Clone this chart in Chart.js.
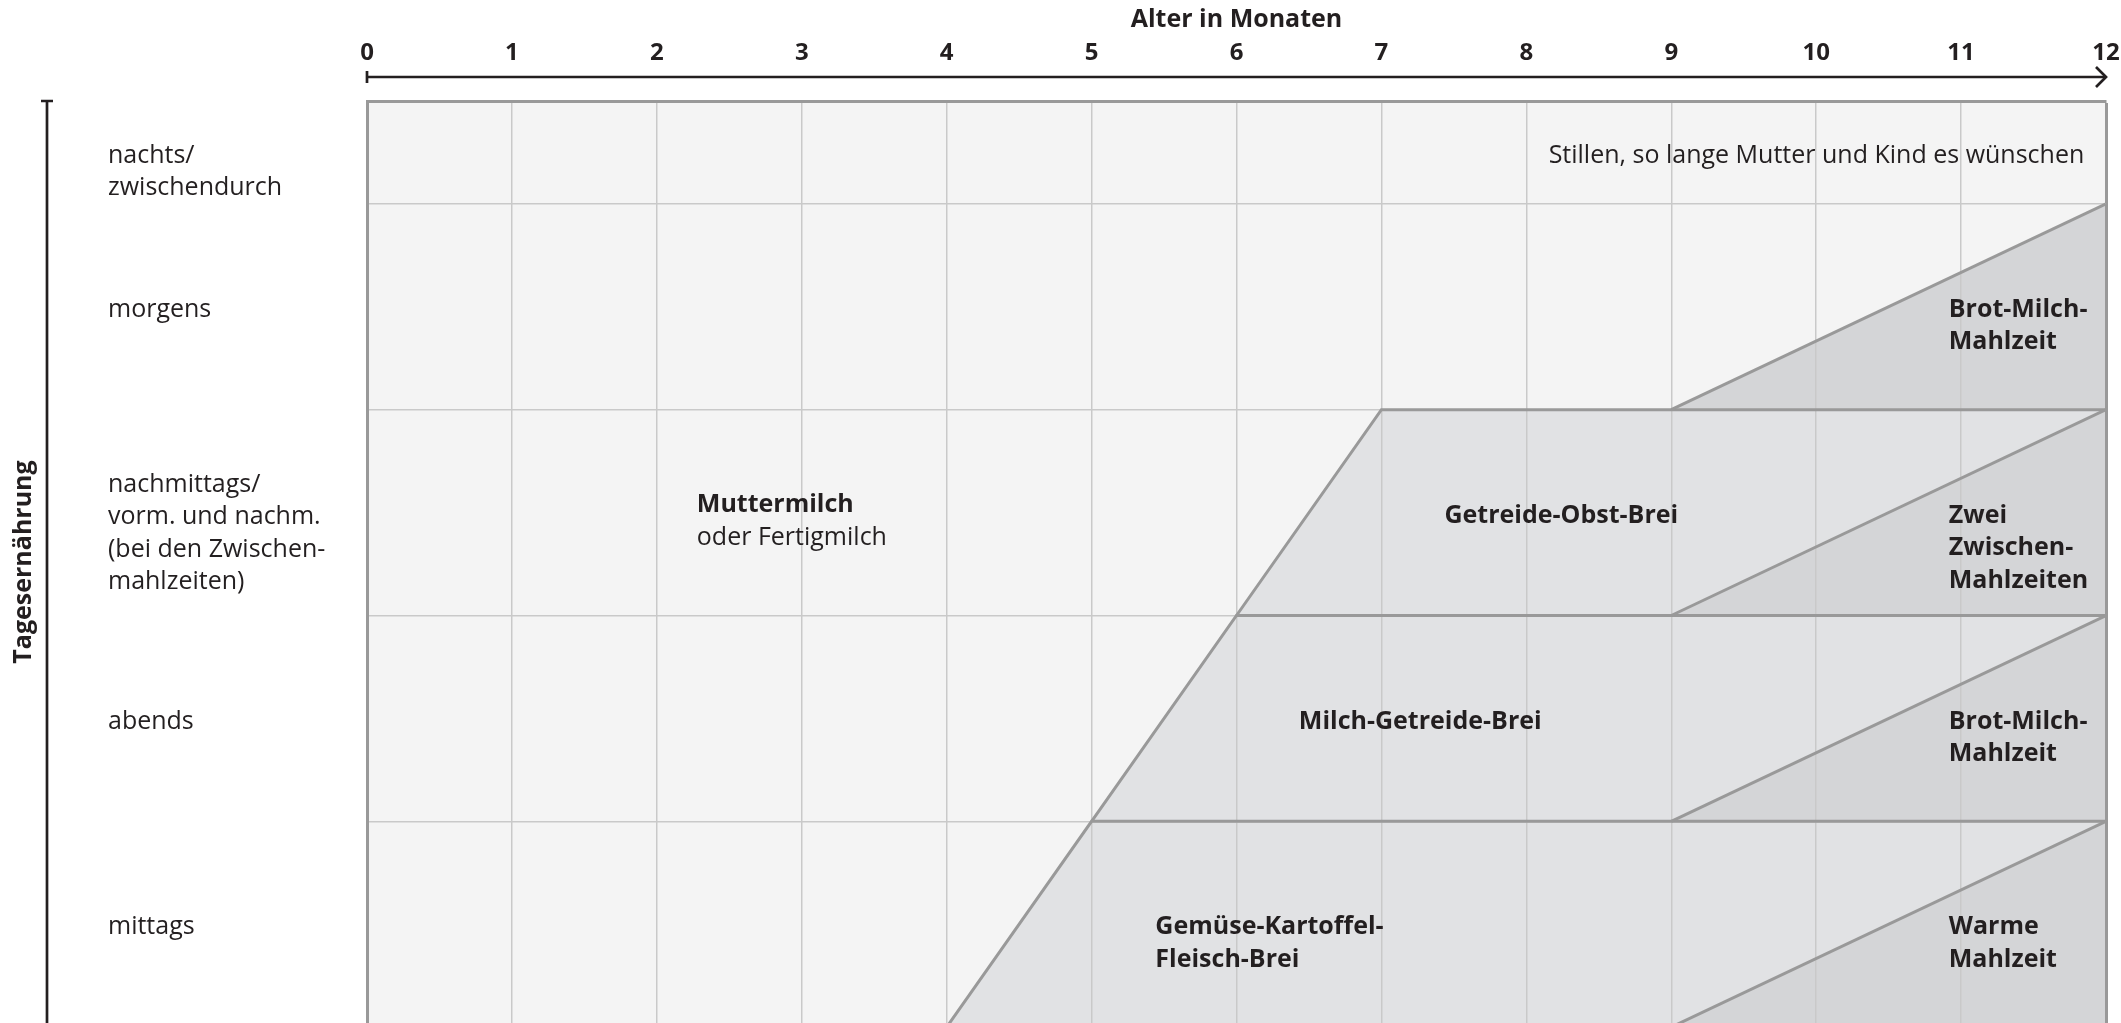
<!DOCTYPE html>
<html lang="de">
<head>
<meta charset="utf-8">
<title>Ernährungsplan für das erste Lebensjahr</title>
<script src="https://cdn.jsdelivr.net/npm/chart.js@4.4.1/dist/chart.umd.min.js"></script>
<style>
    html, body { margin: 0; padding: 0; background: #fff; overflow: hidden; }
    #wrap { width: 2121px; height: 1023px; }
</style>
</head>
<body>
<div id="wrap"><canvas id="plan"></canvas></div>
<script>
// Monate auf der Altersachse
const months = [0, 1, 2, 3, 4, 5, 6, 7, 8, 9, 10, 11, 12];
const ageEnd = 12;

// Tageszeiten (von unten nach oben: mittags = 0..1, ..., nachts = 4..4.5)
const rowLabels = [
    ['mittags'],
    ['abends'],
    ['nachmittags/', 'vorm. und nachm.', '(bei den Zwischen-', 'mahlzeiten)'],
    ['morgens'],
    ['nachts/', 'zwischendurch']
];
const rowLabelY = [0.5, 1.5, 2.65, 3.5, 4.25];
const dayTop = 4.5;

// Breie: Beginn und volle Mahlzeit (Monat), je Zeile mittags / abends / nachmittags
const breiNames = [['Gemüse-Kartoffel-', 'Fleisch-Brei'], ['Milch-Getreide-Brei'], ['Getreide-Obst-Brei']];
const breiStart = [4, 5, 6];
const breiFull = [5, 6, 7];
const breiLabelX = [5.44, 6.43, 7.435];

// Familienkost ab Monat, je Zeile mittags / abends / nachmittags / morgens
const familyNames = [['Warme', 'Mahlzeit'], ['Brot-Milch-', 'Mahlzeit'], ['Zwei', 'Zwischen-', 'Mahlzeiten'], ['Brot-Milch-', 'Mahlzeit']];
const familyStart = [9, 9, 9, 9];
const familyLabelX = 10.915;

const milkLabel = ['Muttermilch', 'oder Fertigmilch'];
const milkLabelX = 2.276;
const milkLabelY = 2.55;
const nightLabel = 'Stillen, so lange Mutter und Kind es wünschen';
const nightLabelX = 11.85;

const ink = '#231f20';
const family = "'Open Sans', 'Noto Sans', sans-serif";
const edge = '#999999';
const gridColor = '#c9c9c9';

const datasets = [];

// Hintergrund: Milchernährung über den ganzen Tag
datasets.push({
    label: 'Milch',
    data: [{ x: 0, y: dayTop }, { x: ageEnd, y: dayTop }],
    fill: 'start',
    backgroundColor: '#f4f4f4',
    borderWidth: 0,
    order: 3
});

breiStart.forEach((start, i) => {
    datasets.push({
        label: breiNames[i].join(' '),
        data: [{ x: start, y: i }, { x: breiFull[i], y: i + 1 }, { x: ageEnd, y: i + 1 }],
        fill: { value: i },
        backgroundColor: '#e1e2e4',
        borderColor: edge,
        borderWidth: 3,
        order: 2
    });
});

familyStart.forEach((start, i) => {
    datasets.push({
        label: familyNames[i].join(' '),
        data: [{ x: start, y: i }, { x: ageEnd, y: i + 1 }],
        fill: { value: i },
        backgroundColor: '#d4d5d7',
        borderColor: edge,
        borderWidth: 3,
        order: 1
    });
});

function drawLines(ctx, lines, px, py, fonts, align) {
    ctx.textAlign = align || 'left';
    ctx.textBaseline = 'middle';
    lines.forEach((line, i) => {
        ctx.font = fonts[Math.min(i, fonts.length - 1)];
        ctx.fillText(line, px, py + 3 + i * 32.4);
    });
}

const planDecor = {
    id: 'planDecor',
    afterDraw(chart) {
        const { ctx, chartArea, scales: { x, y } } = chart;
        ctx.save();
        ctx.strokeStyle = ink;
        ctx.fillStyle = ink;
        ctx.lineWidth = 2.7;

        // Altersachse mit Pfeil
        const ay = chartArea.top - 24;
        const x0 = x.getPixelForValue(0);
        const x12 = x.getPixelForValue(ageEnd);
        ctx.beginPath();
        ctx.moveTo(x0, ay);
        ctx.lineTo(x12, ay);
        ctx.moveTo(x0, ay - 6);
        ctx.lineTo(x0, ay + 6);
        ctx.stroke();
        ctx.beginPath();
        ctx.moveTo(x12 - 10, ay - 10);
        ctx.lineTo(x12, ay);
        ctx.lineTo(x12 - 10, ay + 10);
        ctx.stroke();

        // Tagesachse
        const lx = y.left + 47;
        ctx.beginPath();
        ctx.moveTo(lx, chartArea.top);
        ctx.lineTo(lx, chart.height);
        ctx.moveTo(lx - 6, chartArea.top);
        ctx.lineTo(lx + 6, chartArea.top);
        ctx.stroke();

        const regular = '25px ' + family;
        const bold = 'bold 25px ' + family;

        rowLabels.forEach((lines, i) => {
            drawLines(ctx, lines, y.left + 108, y.getPixelForValue(rowLabelY[i]), [regular]);
        });

        drawLines(ctx, milkLabel, x.getPixelForValue(milkLabelX), y.getPixelForValue(milkLabelY), [bold, regular]);
        drawLines(ctx, [nightLabel], x.getPixelForValue(nightLabelX), y.getPixelForValue(4.25), [regular], 'right');

        breiNames.forEach((lines, i) => {
            drawLines(ctx, lines, x.getPixelForValue(breiLabelX[i]), y.getPixelForValue(i + 0.5), [bold]);
        });
        familyNames.forEach((lines, i) => {
            drawLines(ctx, lines, x.getPixelForValue(familyLabelX), y.getPixelForValue(i + 0.5), [bold]);
        });
        ctx.restore();
    }
};

new Chart(document.getElementById('plan'), {
    type: 'line',
    data: { datasets: datasets },
    plugins: [planDecor],
    options: {
        responsive: true,
        maintainAspectRatio: false,
        animation: false,
        events: [],
        layout: { padding: 0 },
        elements: {
            point: { radius: 0, hoverRadius: 0 },
            line: { tension: 0, borderJoinStyle: 'miter' }
        },
        plugins: {
            legend: { display: false },
            tooltip: { enabled: false },
            filler: { propagate: false, drawTime: 'beforeDraw' }
        },
        scales: {
            x: {
                type: 'linear',
                position: 'top',
                min: 0,
                max: ageEnd,
                afterFit: (scale) => {
                    scale.height = 101;
                    scale.paddingLeft = 0;
                    scale.paddingRight = 15;
                },
                afterBuildTicks: (scale) => { scale.ticks = months.map(m => ({ value: m })); },
                ticks: {
                    autoSkip: false,
                    maxRotation: 0,
                    padding: 33,
                    color: ink,
                    font: { family: family, size: 24, weight: 'bold' }
                },
                grid: {
                    drawTicks: false,
                    color: (c) => c.tick && c.tick.value === ageEnd ? edge : gridColor,
                    lineWidth: (c) => c.tick && c.tick.value === ageEnd ? 3 : 1.5
                },
                border: { display: true, color: edge, width: 3 },
                title: {
                    display: true,
                    text: 'Alter in Monaten',
                    color: ink,
                    font: { family: family, size: 25, weight: 'bold' },
                    padding: { top: 5, bottom: 0 }
                }
            },
            y: {
                type: 'linear',
                min: 0.02,
                max: dayTop,
                afterFit: (scale) => { scale.width = 367; },
                afterBuildTicks: (scale) => { scale.ticks = [1, 2, 3, 4].map(v => ({ value: v })); },
                ticks: { display: false },
                grid: { drawTicks: false, color: gridColor, lineWidth: 1.5 },
                border: { display: true, color: edge, width: 3 },
                title: {
                    display: true,
                    text: 'Tagesernährung',
                    color: ink,
                    font: { family: family, size: 25, weight: 'bold' },
                    padding: { top: 9, bottom: 0 }
                }
            }
        }
    }
});
</script>
</body>
</html>
